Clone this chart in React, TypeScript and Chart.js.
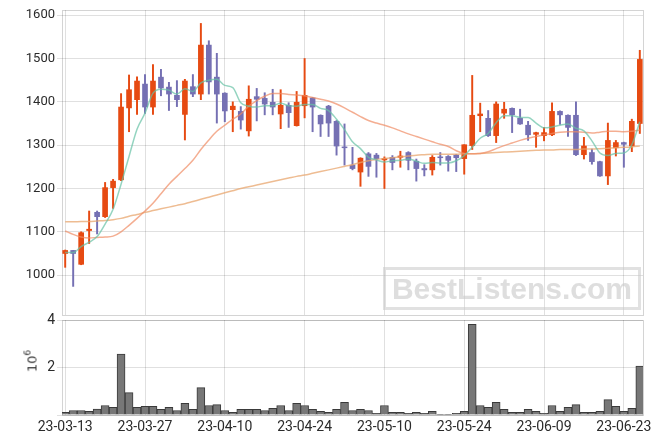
import React, { useEffect, useRef } from 'react';
import { Chart, registerables } from 'chart.js';
Chart.register(...registerables);

const dates = [
  '23-03-13','23-03-14','23-03-15','23-03-16','23-03-17',
  '23-03-20','23-03-21','23-03-22','23-03-23','23-03-24',
  '23-03-27','23-03-28','23-03-29','23-03-30','23-03-31',
  '23-04-03','23-04-04','23-04-05','23-04-06','23-04-07',
  '23-04-10','23-04-11','23-04-12','23-04-13','23-04-14',
  '23-04-17','23-04-18','23-04-19','23-04-20','23-04-21',
  '23-04-24','23-04-25','23-04-26','23-04-27','23-04-28',
  '23-05-02','23-05-03','23-05-04','23-05-08','23-05-09',
  '23-05-10','23-05-11','23-05-12','23-05-15','23-05-16',
  '23-05-17','23-05-18','23-05-19','23-05-22','23-05-23',
  '23-05-24','23-05-25','23-05-26','23-05-30','23-05-31',
  '23-06-01','23-06-02','23-06-05','23-06-07','23-06-08',
  '23-06-09','23-06-12','23-06-13','23-06-14','23-06-15',
  '23-06-16','23-06-19','23-06-20','23-06-21','23-06-22',
  '23-06-23','23-06-26','23-06-27',
];
const xTickIndex = [0, 10, 20, 30, 40, 50, 60, 70];
const priceTicks = [1000, 1100, 1200, 1300, 1400, 1500, 1600];
const volumeTicks = [0, 2000000, 4000000];

const openP = [
  1050,1057,1025,1103,1145, 1135,1202,1220,1386,1405,
  1441,1388,1457,1434,1415, 1371,1435,1418,1531,1457,
  1420,1382,1378,1333,1412, 1408,1399,1372,1392,1345,
  1391,1409,1369,1390,1355, 1296,1254,1238,1280,1277,
  1266,1272,1272,1283,1263, 1246,1243,1273,1274,1277,
  1269,1299,1368,1362,1322, 1374,1385,1362,1346,1325,
  1322,1324,1378,1369,1369, 1278,1283,1262,1229,1294,
  1306,1298,1350,
];
const highP = [
  1058,1057,1100,1148,1148, 1214,1221,1419,1462,1458,
  1463,1486,1475,1445,1449, 1452,1463,1581,1541,1512,
  1421,1400,1389,1437,1431, 1421,1429,1428,1398,1424,
  1500,1410,1370,1392,1357, 1349,1295,1271,1283,1281,
  1273,1276,1286,1285,1268, 1255,1276,1283,1276,1279,
  1301,1461,1397,1380,1400, 1399,1386,1383,1355,1330,
  1341,1398,1379,1370,1400, 1318,1291,1263,1351,1311,
  1307,1360,1519,
];
const lowP = [
  1018,974,1024,1073,1095, 1133,1154,1218,1331,1371,
  1373,1371,1414,1380,1389, 1312,1412,1405,1418,1351,
  1354,1331,1337,1321,1356, 1370,1370,1338,1341,1344,
  1363,1331,1320,1320,1277, 1254,1243,1205,1228,1226,
  1200,1243,1249,1243,1217, 1229,1231,1254,1240,1239,
  1233,1290,1331,1320,1306, 1362,1329,1348,1311,1295,
  1310,1322,1348,1320,1276, 1268,1256,1228,1209,1275,
  1249,1285,1327,
];
const closeP = [
  1057,1050,1098,1106,1135, 1202,1217,1388,1428,1448,
  1388,1448,1432,1418,1405, 1448,1418,1531,1446,1418,
  1379,1390,1358,1406,1406, 1395,1388,1392,1375,1399,
  1415,1388,1349,1351,1298, 1294,1246,1270,1251,1269,
  1269,1260,1275,1265,1246, 1243,1272,1271,1265,1271,
  1301,1369,1372,1322,1395, 1383,1370,1349,1324,1329,
  1329,1378,1370,1341,1278, 1298,1262,1229,1311,1306,
  1302,1355,1498,
];
const volume = [
  110000,190000,190000,150000,250000, 400000,320000,2570000,940000,320000,
  360000,360000,240000,320000,190000, 490000,240000,1150000,400000,440000,
  190000,110000,240000,240000,240000, 190000,280000,400000,190000,490000,
  400000,240000,150000,110000,240000, 530000,190000,240000,190000,70000,
  400000,110000,110000,70000,110000, 70000,150000,30000,30000,70000,
  150000,3820000,400000,320000,530000, 240000,110000,110000,240000,150000,
  70000,400000,150000,320000,440000, 110000,110000,150000,650000,360000,
  150000,280000,2060000,
];
const ma5 = [
  1052,1052,1066,1076,1089, 1118,1152,1210,1274,1337,
  1374,1420,1429,1427,1418, 1430,1424,1444,1450,1452,
  1438,1433,1398,1390,1388, 1391,1391,1397,1391,1390,
  1394,1394,1385,1380,1360, 1336,1308,1292,1272,1266,
  1261,1264,1265,1268,1263, 1258,1260,1259,1259,1264,
  1276,1295,1316,1327,1352, 1368,1368,1364,1364,1351,
  1340,1342,1346,1349,1339, 1333,1310,1282,1276,1281,
  1282,1301,1354,
];
const ma20 = [
  1102,1094,1088,1086,1087, 1088,1090,1100,1115,1131,
  1148,1166,1188,1210,1228, 1246,1265,1290,1312,1332,
  1346,1360,1372,1390,1403, 1413,1419,1419,1417,1416,
  1414,1410,1406,1402,1395, 1386,1376,1366,1357,1351,
  1346,1340,1333,1326,1320, 1314,1308,1302,1297,1287,
  1281,1280,1281,1285,1292, 1299,1305,1311,1316,1320,
  1324,1327,1330,1331,1331, 1330,1328,1330,1332,1332,
  1331,1332,1335,
];
const ma60 = [
  1123,1123,1124,1124,1125, 1126,1128,1131,1136,1140,
  1145,1149,1153,1157,1161, 1165,1170,1175,1180,1185,
  1190,1195,1200,1204,1208, 1212,1216,1220,1224,1228,
  1231,1235,1239,1243,1247, 1251,1255,1260,1264,1267,
  1269,1271,1273,1275,1277, 1278,1279,1279,1279,1279,
  1280,1280,1281,1282,1283, 1284,1285,1286,1287,1288,
  1289,1289,1290,1290,1290, 1291,1291,1292,1293,1294,
  1295,1296,1298,
];

const RED = '#e64a12';
const BLUE = '#7570b3';
const GRID = 'rgba(0,0,0,0.12)';
const FRAME = 'rgba(0,0,0,0.17)';
const TICK_COLOR = '#2b2b2b';

const framePlugin = {
  id: 'frame',
  beforeDatasetsDraw(chart: any) {
    const { ctx, chartArea } = chart;
    const { left, top, right, bottom } = chartArea;
    ctx.save();
    ctx.strokeStyle = FRAME;
    ctx.lineWidth = 1;
    ctx.strokeRect(Math.round(left) + 0.5, Math.round(top) + 0.5, Math.round(right - left), Math.round(bottom - top));
    ctx.restore();
  },
};

const setTicks = (values: number[]) => (s: any) => {
  s.ticks = values.map((v) => ({ value: v }));
};

export default function App() {
  const priceRef = useRef<HTMLCanvasElement>(null);
  const volRef = useRef<HTMLCanvasElement>(null);

  useEffect(() => {
    document.body.style.margin = '0';
    const idx = dates.map((_, i) => i);
    const colors = idx.map((i) => (closeP[i] >= openP[i] ? RED : BLUE));
    const xMin = -0.4;
    const xMax = dates.length - 1 + 0.4;

    const lineDs = (vals: number[], color: string, order: number) => ({
      type: 'line' as const,
      data: idx.map((i) => ({ x: i, y: vals[i] })),
      borderColor: color,
      borderWidth: 1.5,
      pointRadius: 0,
      cubicInterpolationMode: 'monotone' as const,
      fill: false,
      order,
    });

    const priceChart = new Chart(priceRef.current as HTMLCanvasElement, {
      type: 'bar',
      data: {
        datasets: [
          lineDs(ma5, 'rgba(102,194,165,0.7)', 0),
          lineDs(ma20, 'rgba(240,140,100,0.7)', 1),
          lineDs(ma60, 'rgba(232,165,110,0.75)', 2),
          {
            type: 'bar',
            data: idx.map((i) => ({ x: i, y: [Math.min(openP[i], closeP[i]), Math.max(openP[i], closeP[i])] })),
            backgroundColor: colors,
            borderWidth: 0,
            barThickness: 5,
            grouped: false,
            order: 3,
          } as any,
          {
            type: 'bar',
            data: idx.map((i) => ({ x: i, y: [lowP[i], highP[i]] })),
            backgroundColor: colors,
            borderWidth: 0,
            barThickness: 1.3,
            grouped: false,
            order: 4,
          } as any,
        ],
      },
      options: {
        animation: false,
        responsive: false,
        maintainAspectRatio: false,
        layout: { autoPadding: false, padding: { left: 0, top: 10, right: 20, bottom: 130 } },
        plugins: { legend: { display: false }, tooltip: { enabled: false } },
        scales: {
          x: {
            type: 'linear',
            min: xMin,
            max: xMax,
            offset: false,
            afterBuildTicks: setTicks(xTickIndex),
            ticks: { display: false },
            grid: { color: GRID, offset: false, drawTicks: false },
            border: { display: false },
            afterFit: (s: any) => { s.height = 0; },
          },
          y: {
            min: 908,
            max: 1612,
            afterBuildTicks: setTicks(priceTicks),
            ticks: {
              padding: 2, color: TICK_COLOR, font: { family: 'Roboto', size: 13 },
              callback: (v: any) => String(v),
            },
            grid: { color: GRID, tickLength: 5 },
            border: { display: false },
            afterFit: (s: any) => { s.width = 62; },
          },
        },
      } as any,
      plugins: [framePlugin],
    });

    const volChart = new Chart(volRef.current as HTMLCanvasElement, {
      type: 'bar',
      data: {
        datasets: [
          {
            data: idx.map((i) => ({ x: i, y: volume[i] })),
            backgroundColor: '#777777',
            borderColor: '#3a3a3a',
            borderWidth: 1,
            barPercentage: 1,
            categoryPercentage: 1,
            grouped: false,
          } as any,
        ],
      },
      options: {
        animation: false,
        responsive: false,
        maintainAspectRatio: false,
        layout: { autoPadding: false, padding: { left: 0, top: 320, right: 20, bottom: 0 } },
        plugins: { legend: { display: false }, tooltip: { enabled: false } },
        scales: {
          x: {
            type: 'linear',
            min: xMin,
            max: xMax,
            offset: false,
            afterBuildTicks: setTicks(xTickIndex),
            ticks: {
              autoSkip: false,
              maxRotation: 0,
              padding: 4,
              color: TICK_COLOR,
              font: { family: 'Roboto', size: 14 },
              callback: (v: any) => dates[Math.round(Number(v))] ?? '',
            },
            grid: { color: GRID, offset: false, drawTicks: false },
            border: { display: false },
            afterFit: (s: any) => { s.height = 30; },
          },
          y: {
            min: 0,
            max: 4000000,
            afterBuildTicks: setTicks(volumeTicks),
            ticks: {
              padding: 2,
              color: TICK_COLOR,
              font: { family: 'Roboto', size: 14 },
              callback: (v: any) => (Number(v) === 0 ? '' : String(Number(v) / 1000000)),
            },
            grid: { color: GRID, tickLength: 5 },
            border: { display: false },
            afterFit: (s: any) => { s.width = 62; },
          },
        },
      } as any,
      plugins: [framePlugin],
    });

    return () => {
      priceChart.destroy();
      volChart.destroy();
    };
  }, []);

  return (
    <div style={{ position: 'fixed', left: 0, top: 0, width: 663, height: 445, background: '#fff', overflow: 'hidden' }}>
      <canvas ref={priceRef} width={663} height={445} style={{ position: 'absolute', left: 0, top: 0 }} />
      <canvas ref={volRef} width={663} height={445} style={{ position: 'absolute', left: 0, top: 0 }} />
      <div
        style={{
          position: 'absolute', left: 383, top: 267, width: 258, height: 43, boxSizing: 'border-box',
          border: '3px solid rgba(200,200,200,0.55)', color: 'rgba(200,200,200,0.6)',
          font: 'bold 30px "Liberation Sans", Arial, sans-serif', display: 'flex', alignItems: 'center',
          justifyContent: 'center', pointerEvents: 'none', letterSpacing: 0,
        }}
      >
        BestListens.com
      </div>
      <div
        style={{
          position: 'absolute', left: 33, top: 361, transform: 'translate(-50%,-50%) rotate(-90deg)',
          font: '13px "DejaVu Sans", sans-serif', color: '#333', whiteSpace: 'nowrap', lineHeight: '14px',
        }}
      >
        10<span style={{ fontSize: 9, position: 'relative', top: -6 }}>6</span>
      </div>
    </div>
  );
}
